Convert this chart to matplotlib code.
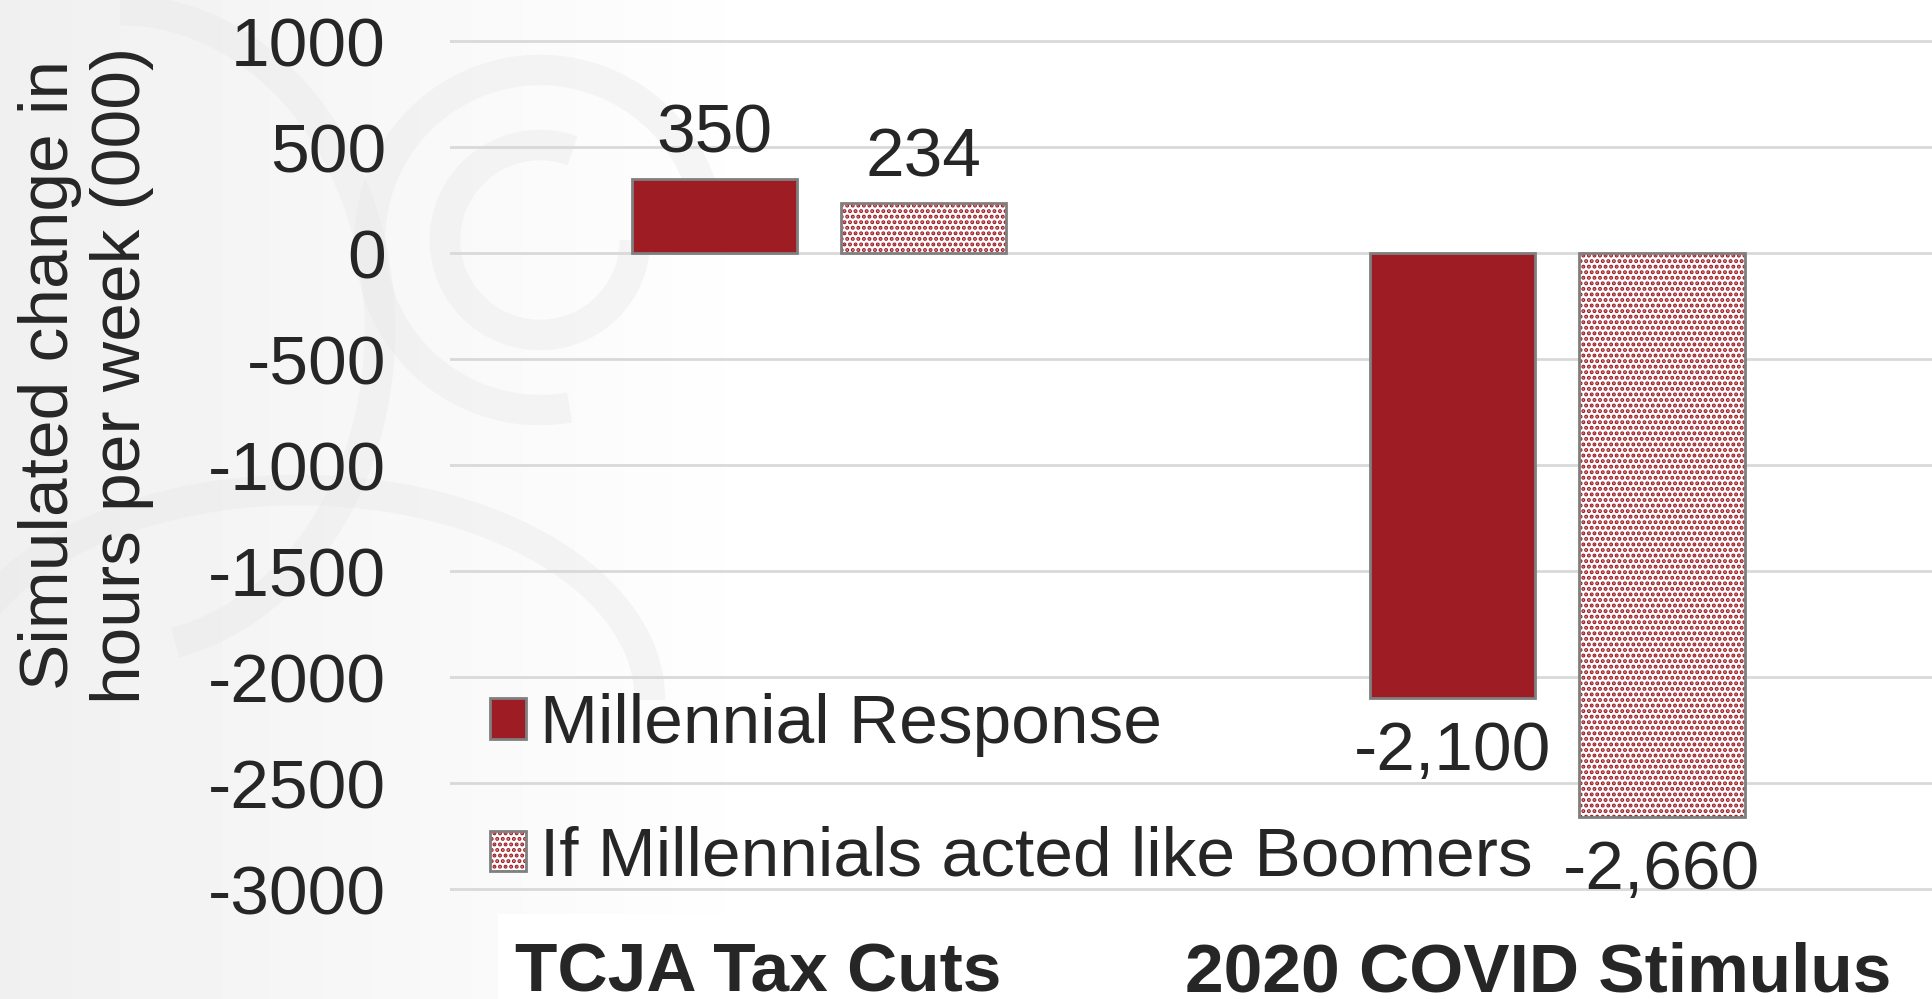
import matplotlib.pyplot as plt
import numpy as np
from matplotlib.patches import Rectangle, Arc
from matplotlib.legend_handler import HandlerTuple

categories = ["TCJA Tax Cuts", "2020 COVID Stimulus"]
series_names = ["Millennial Response", "If Millennials acted like Boomers"]
millennial = [350, -2100]
boomer_like = [234, -2660]
y_ticks = [1000, 500, 0, -500, -1000, -1500, -2000, -2500, -3000]
y_label = "Simulated change in\nhours per week (000)"

RED = "#9e1c23"
EDGE = "#7f7f7f"
TEXT = "#262626"
GRID = "#d9d9d9"

plt.rcParams['font.family'] = ['Liberation Sans', 'DejaVu Sans']
plt.rcParams['axes.unicode_minus'] = False
plt.rcParams['hatch.linewidth'] = 2.0

W, H = 1932, 999
fig = plt.figure(figsize=(W / 100, H / 100), dpi=100)

# background: light grey fading to white, faint swirl watermark
bg = fig.add_axes([0, 0, 1, 1], zorder=-10)
bg.set_xlim(0, W)
bg.set_ylim(H, 0)
bg.axis("off")
grad = np.clip(0.94 + 0.06 * np.linspace(0, 1, 400) / 0.4, 0, 1)[None, :]
bg.imshow(grad, cmap="gray", vmin=0, vmax=1, extent=[0, W, H, 0], aspect="auto")
for (cx, cy, w, h, t1, t2) in [(540, 240, 190, 190, 0, 290), (540, 240, 340, 340, 80, 360),
                               (120, 330, 520, 640, 270, 80), (300, 700, 700, 420, 180, 360)]:
    bg.add_patch(Arc((cx, cy), w, h, theta1=t1, theta2=t2, color="#e6e6e6", lw=22, alpha=0.35))
bg.add_patch(Rectangle((498, 914), W - 498, H - 914, color="white"))

ax = fig.add_axes([450 / W, 1 - 899.6 / H, (W - 450) / W, (899.6 - 30.4) / H])
ax.set_facecolor("none")

x = np.arange(len(categories))
width = 0.224
off = 0.142

b1 = ax.bar(x - off, millennial, width, color=RED, edgecolor=EDGE, lw=2, zorder=3)
b2h = ax.bar(x + off, boomer_like, width, color="white", edgecolor=RED, hatch="...", lw=0, zorder=3)
b2 = ax.bar(x + off, boomer_like, width, color="none", edgecolor=EDGE, lw=2, zorder=4)


def label_bars(bars, values):
    for rect, v in zip(bars, values):
        pad = 9 if v >= 0 else -16
        ax.annotate(f"{v:,}", (rect.get_x() + rect.get_width() / 2, v),
                    xytext=(0, pad), textcoords="offset points", ha="center",
                    va="bottom" if v >= 0 else "top", fontsize=50, color=TEXT)


label_bars(b1, millennial)
label_bars(b2, boomer_like)

ax.set_xlim(-0.5, 1.508)
ax.set_ylim(-3050, 1050)
ax.set_yticks(y_ticks)
ax.set_yticklabels([str(v) for v in y_ticks])
ax.set_xticks([])
ax.yaxis.grid(True, color=GRID, lw=2)
ax.set_axisbelow(True)
for s in ax.spines.values():
    s.set_visible(False)
ax.tick_params(axis="y", length=0, pad=46, labelsize=50, labelcolor=TEXT)

fig.text(86 / W, 1 - 375 / H, y_label, rotation=90, ha="center", va="center",
         multialignment="center", fontsize=50, color=TEXT, linespacing=1.15)

fig.legend([b1, (b2h, b2)], series_names, handler_map={tuple: HandlerTuple(ndivide=1)},
           loc="upper left", bbox_to_anchor=(490 / W, 1 - 693 / H), frameon=False,
           fontsize=50, labelcolor=TEXT, handlelength=0.52, handleheight=0.52,
           handletextpad=0.2, labelspacing=0.99, borderpad=0, borderaxespad=0)

for name, cx in zip(categories, [758, 1538]):
    fig.text(cx / W, 1 - 974 / H, name, ha="center", va="center", fontsize=50,
             fontweight="bold", color=TEXT,
             family=["Liberation Sans Narrow", "Liberation Sans", "DejaVu Sans"])

fig.savefig("out.png", dpi=100)
